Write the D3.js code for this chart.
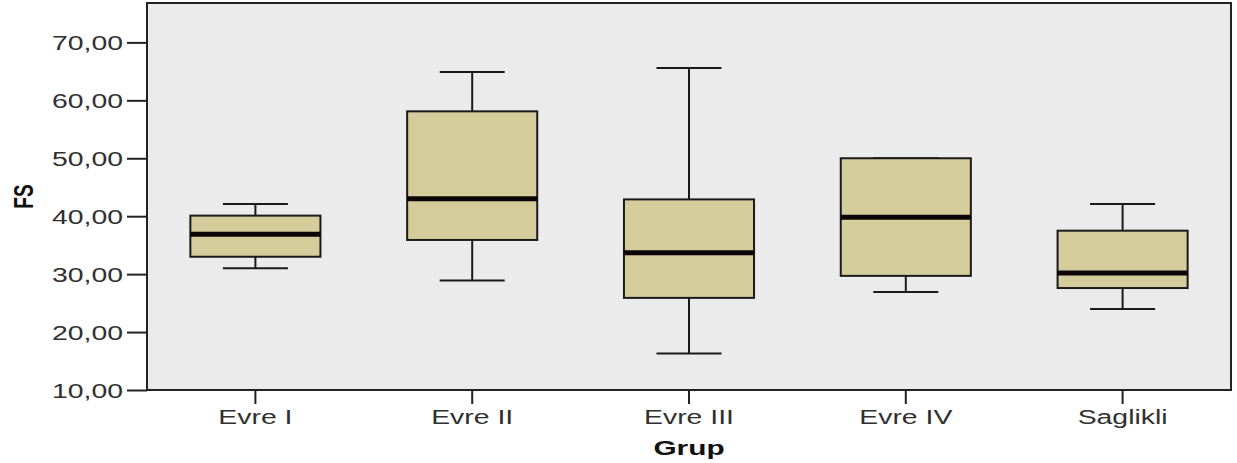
<!DOCTYPE html>
<html lang="en">
<head>
<meta charset="utf-8">
<title>FS by Grup</title>
<script src="https://cdn.jsdelivr.net/npm/d3@7"></script>
<style>
  body { margin: 0; background: #fff; }
  svg { display: block; }
  text { font-family: "Liberation Sans", Arial, sans-serif; fill: #303030; }
</style>
</head>
<body>
<svg id="chart" width="1237" height="463"></svg>
<script>
// values
const groups = ["Evre I", "Evre II", "Evre III", "Evre IV", "Saglikli"];
const whiskerLow  = [31.0, 28.9, 16.3, 26.9, 24.0];
const q1          = [33.0, 35.9, 25.9, 29.7, 27.6];
const median      = [36.9, 43.0, 33.7, 39.8, 30.2];
const q3          = [40.1, 58.1, 42.9, 50.0, 37.5];
const whiskerHigh = [42.1, 64.9, 65.6, 50.0, 42.1];
const yTicks = [10, 20, 30, 40, 50, 60, 70];

const boxes = groups.map((g, i) => ({
  g, lo: whiskerLow[i], q1: q1[i], med: median[i], q3: q3[i], hi: whiskerHigh[i]
}));

const plot = {left: 147, right: 1231, top: 3, bottom: 390};
const stretch = 1.42; // the source picture is wider than tall

const svg = d3.select("#chart");

let x = d3.scaleBand()
  .domain(groups)
  .range([plot.left, plot.right]);
let y = d3.scaleLinear()
  .domain([10, 76.8])
  .range([plot.bottom, plot.top]);

// plot background + frame
svg.append("rect")
  .attr("x", plot.left).attr("y", plot.top)
  .attr("width", plot.right - plot.left).attr("height", plot.bottom - plot.top)
  .attr("fill", "#ebebeb")
  .attr("stroke", "#222")
  .attr("stroke-width", 2);

// y axis
let yAxis = svg.append("g")
  .attr("transform", `translate(${plot.left},0)`)
  .call(d3.axisLeft(y).tickValues(yTicks).tickSize(20)
    .tickFormat(d => d3.format(".2f")(d).replace(".", ",")));
yAxis.select(".domain").remove();
yAxis.selectAll("line").attr("stroke", "#222").attr("stroke-width", 2);
yAxis.selectAll("text")
  .attr("x", null).attr("dy", "0.36em")
  .attr("transform", `translate(-24,0) scale(${stretch},1)`)
  .style("font-size", "20px")
  .attr("text-anchor", "end");

// x axis
let xAxis = svg.append("g")
  .attr("transform", `translate(0,${plot.bottom})`)
  .call(d3.axisBottom(x).tickSize(14));
xAxis.select(".domain").remove();
xAxis.selectAll("line").attr("stroke", "#222").attr("stroke-width", 2);
xAxis.selectAll("text")
  .attr("y", null).attr("dy", null)
  .attr("transform", `translate(0,34) scale(${stretch},1)`)
  .style("font-size", "20px");

// axis titles
svg.append("text")
  .attr("transform", `translate(${(plot.left + plot.right) / 2},455) scale(${stretch},1)`)
  .attr("text-anchor", "middle")
  .style("font-size", "21px").style("font-weight", "bold").style("fill", "#111")
  .text("Grup");
svg.append("text")
  .attr("transform", `translate(33,${(plot.top + plot.bottom) / 2}) scale(${stretch},1) rotate(-90)`)
  .attr("text-anchor", "middle")
  .style("font-size", "19px").style("font-weight", "bold").style("fill", "#111")
  .text("FS");

// boxes
const bw = x.bandwidth() * 0.6, cw = x.bandwidth() * 0.3;
let g = svg.selectAll("g.box")
  .data(boxes).enter()
  .append("g")
  .attr("class", "box")
  .attr("transform", d => `translate(${x(d.g) + x.bandwidth() / 2},0)`);

g.append("line")
  .attr("x1", 0).attr("x2", 0)
  .attr("y1", d => y(d.hi)).attr("y2", d => y(d.lo))
  .attr("stroke", "#1a1a1a").attr("stroke-width", 2);
g.selectAll("line.cap")
  .data(d => [d.lo, d.hi]).enter()
  .append("line")
  .attr("class", "cap")
  .attr("x1", -cw / 2).attr("x2", cw / 2)
  .attr("y1", v => y(v)).attr("y2", v => y(v))
  .attr("stroke", "#1a1a1a").attr("stroke-width", 2);
g.append("rect")
  .attr("x", -bw / 2).attr("width", bw)
  .attr("y", d => y(d.q3)).attr("height", d => y(d.q1) - y(d.q3))
  .attr("fill", "#d4cd9b")
  .attr("stroke", "#1a1a1a").attr("stroke-width", 2);
g.append("line")
  .attr("x1", -bw / 2).attr("x2", bw / 2)
  .attr("y1", d => y(d.med)).attr("y2", d => y(d.med))
  .attr("stroke", "#0d0505").attr("stroke-width", 5);
</script>
</body>
</html>
